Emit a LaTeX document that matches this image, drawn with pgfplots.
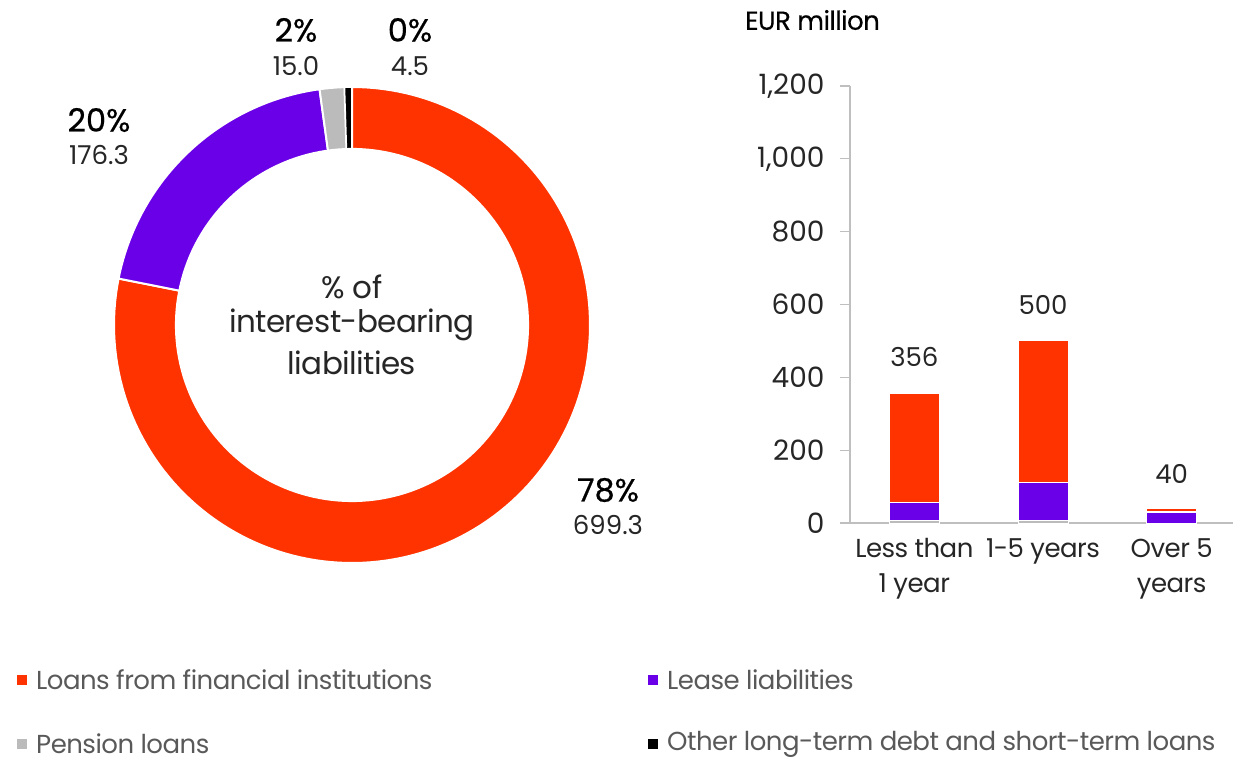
\documentclass[border=0pt]{standalone}
\usepackage{pgfplots}
\pgfplotsset{compat=1.18}
\usepackage{fontspec}
\setmainfont{Poppins}[LetterSpace=-2]
\newfontfamily\numf{Poppins}
\newfontfamily\pctf{Poppins}[FakeBold=0.5]
\newfontfamily\medf{Poppins}[LetterSpace=-2,FakeBold=0.4]
\definecolor{cred}{HTML}{FF3300}
\definecolor{cpur}{HTML}{6A00E8}
\definecolor{cgray}{HTML}{BBBBBB}
\definecolor{ctext}{HTML}{262626}
\definecolor{clegend}{HTML}{595959}
\definecolor{caxis}{HTML}{BFBFBF}
\begin{document}
\begin{tikzpicture}[x=1pt,y=1pt]
\useasboundingbox (0,0) rectangle (1233,761);
% ---- donut data ----
\def\vA{699.3}\def\vB{176.3}\def\vC{15.0}\def\vD{4.5}
\pgfmathsetmacro\tot{\vA+\vB+\vC+\vD}
\pgfmathsetmacro\aA{90-360*(\vA/\tot)}
\pgfmathsetmacro\aB{\aA-360*(\vB/\tot)}
\pgfmathsetmacro\aC{\aB-360*(\vC/\tot)}
\pgfmathsetmacro\aD{\aC-360*(\vD/\tot)}
\begin{axis}[at={(352pt,436pt)}, anchor=center, hide axis, scale only axis,
  width=476pt, height=476pt, xmin=-1, xmax=1, ymin=-1, ymax=1, clip=false]
\addplot[fill=cred, draw=white, line width=2pt, domain=\aA:90, samples=150] ({cos(x)},{sin(x)}) -- (axis cs:0,0) -- cycle;
\addplot[fill=cpur, draw=white, line width=2pt, domain=\aB:\aA, samples=60] ({cos(x)},{sin(x)}) -- (axis cs:0,0) -- cycle;
\addplot[fill=cgray, draw=white, line width=2pt, domain=\aC:\aB, samples=10] ({cos(x)},{sin(x)}) -- (axis cs:0,0) -- cycle;
\addplot[fill=black, draw=white, line width=1.5pt, domain=\aD:\aC, samples=10] ({cos(x)},{sin(x)}) -- (axis cs:0,0) -- cycle;
\addplot[fill=white, draw=none, domain=0:360, samples=180] ({0.744*cos(x)},{0.744*sin(x)}) -- cycle;
\end{axis}
% donut labels
\node[font=\fontsize{31}{36}\selectfont, text=ctext] at (352,474) {\% of};
\node[font=\fontsize{31}{36}\selectfont, text=ctext] at (352,436) {interest-bearing};
\node[font=\fontsize{31}{36}\selectfont, text=ctext] at (352,398) {liabilities};
\node[font=\pctf\fontsize{32}{36}\selectfont, text=black] at (608,271) {78\%};
\node[font=\numf\fontsize{26}{30}\selectfont, text=ctext] at (608,236) {699.3};
\node[font=\pctf\fontsize{32}{36}\selectfont, text=black] at (99,641) {20\%};
\node[font=\numf\fontsize{26}{30}\selectfont, text=ctext] at (99,606) {176.3};
\node[font=\pctf\fontsize{32}{36}\selectfont, text=black] at (296,731) {2\%};
\node[font=\numf\fontsize{26}{30}\selectfont, text=ctext] at (296,695) {15.0};
\node[font=\pctf\fontsize{32}{36}\selectfont, text=black] at (410,731) {0\%};
\node[font=\numf\fontsize{26}{30}\selectfont, text=ctext] at (410,695) {4.5};
% ---- bar chart ----
\node[anchor=west, font=\medf\fontsize{26}{30}\selectfont, text=black, inner sep=0pt] at (745,741) {EUR million};
\begin{axis}[at={(850pt,238pt)}, anchor=south west, scale only axis,
  width=386pt, height=437pt, xmin=-0.5, xmax=2.5, ymin=0, ymax=1200,
  ybar stacked, bar width=50pt, clip=false,
  axis x line*=bottom, axis y line*=left,
  axis line style={caxis, line width=1.5pt, -},
  ytick={0,200,...,1200}, xtick={0,1,2},
  xticklabels={Less than\\1 year, 1-5 years, Over 5\\years},
  tick align=outside, major tick length=10pt,
  ytick style={caxis, line width=1.2pt}, xtick style={draw=none},
  /pgf/number format/assume math mode=true,
  /pgf/number format/1000 sep={,},
  yticklabel style={font=\numf\fontsize{28}{30}\selectfont, text=ctext, xshift=-12pt},
  xticklabel style={font=\fontsize{26}{35}\selectfont, text=ctext, align=center, yshift=-2pt},
]
\addplot[fill=cgray, draw=white, line width=1pt] coordinates {(0,8) (1,8) (2,0)};
\addplot[fill=cpur, draw=white, line width=1pt] coordinates {(0,47) (1,102) (2,29)};
\addplot[fill=black, draw=white, line width=1pt] coordinates {(0,1) (1,0) (2,2)};
\addplot[fill=cred, draw=white, line width=1pt] coordinates {(0,300) (1,390) (2,9)};
\node[font=\numf\fontsize{26}{30}\selectfont, text=ctext] at (axis cs:0,356) [yshift=36pt] {356};
\node[font=\numf\fontsize{26}{30}\selectfont, text=ctext] at (axis cs:1,500) [yshift=36pt] {500};
\node[font=\numf\fontsize{26}{30}\selectfont, text=ctext] at (axis cs:2,40) [yshift=34pt] {40};
\end{axis}
% ---- legend ----
\fill[cred] (17,76) rectangle (27,86);
\node[anchor=west, font=\fontsize{26}{30}\selectfont, text=clegend, inner sep=0pt] at (36,81) {Loans from financial institutions};
\fill[cpur] (648,76) rectangle (658,86);
\node[anchor=west, font=\fontsize{26}{30}\selectfont, text=clegend, inner sep=0pt] at (667,81) {Lease liabilities};
\fill[cgray] (17,12) rectangle (27,22);
\node[anchor=west, font=\fontsize{26}{30}\selectfont, text=clegend, inner sep=0pt] at (36,17) {Pension loans};
\fill[black] (648,12) rectangle (658,22);
\node[anchor=west, font=\fontsize{26}{30}\selectfont, text=clegend, inner sep=0pt] at (667,17) {Other long-term debt and short-term loans};
\end{tikzpicture}
\end{document}
